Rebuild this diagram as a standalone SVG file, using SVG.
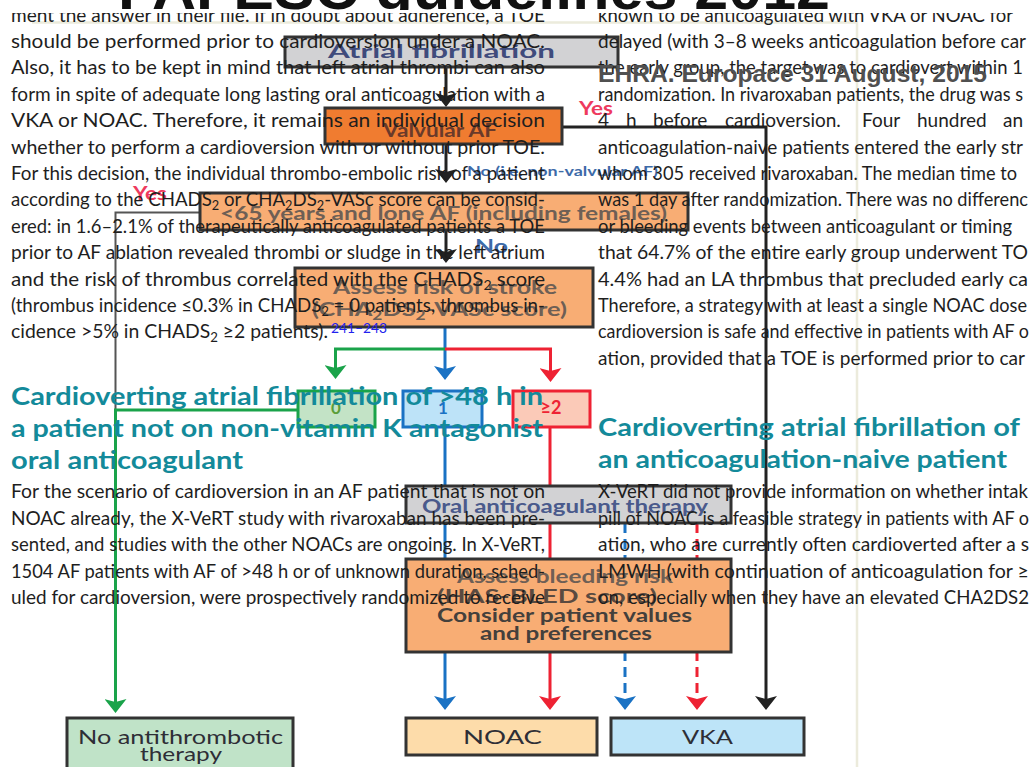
<svg xmlns="http://www.w3.org/2000/svg" width="1031" height="767" viewBox="0 0 1031 767">
<style>
.b{font-family:Lato,"Liberation Sans",sans-serif;font-size:19px;fill:#1e1e1e}
.h{font-family:Lato,"Liberation Sans",sans-serif;font-weight:700;font-size:25px;fill:#138a9a}
.ft{font-family:Lato,"Liberation Sans",sans-serif;font-weight:700;font-size:19px}
.fr{font-family:Lato,"Liberation Sans",sans-serif;font-size:19px;fill:#2e2e36}
.lb{font-family:Lato,"Liberation Sans",sans-serif;font-weight:700}
.box{stroke:#333;stroke-width:3}
.ln{fill:none;stroke-width:3}
.k{stroke:#222}.g{stroke:#1aa34a}.bl{stroke:#1a72c4}.r{stroke:#ee2233}
.dash{stroke-dasharray:10 6}
</style>
<defs>
<marker id="ak" viewBox="0 0 14 22" refX="8" refY="11" markerWidth="14" markerHeight="22" markerUnits="userSpaceOnUse" orient="auto"><path d="M0,0 L14,11 L0,22 L3,11 z" fill="#222"/></marker>
<marker id="ag" viewBox="0 0 14 22" refX="8" refY="11" markerWidth="14" markerHeight="22" markerUnits="userSpaceOnUse" orient="auto"><path d="M0,0 L14,11 L0,22 L3,11 z" fill="#1aa34a"/></marker>
<marker id="ab" viewBox="0 0 14 22" refX="8" refY="11" markerWidth="14" markerHeight="22" markerUnits="userSpaceOnUse" orient="auto"><path d="M0,0 L14,11 L0,22 L3,11 z" fill="#1a72c4"/></marker>
<marker id="ar" viewBox="0 0 14 22" refX="8" refY="11" markerWidth="14" markerHeight="22" markerUnits="userSpaceOnUse" orient="auto"><path d="M0,0 L14,11 L0,22 L3,11 z" fill="#ee2233"/></marker>
<clipPath id="topclip"><rect x="0" y="0" width="1031" height="10"/></clipPath>
</defs>
<rect width="1031" height="767" fill="#fff"/>
<!-- page edge -->
<path d="M32,22.5 H857 V767" fill="none" stroke="#ecebdc" stroke-width="2.5"/>

<!-- connectors -->
<g id="connectors">
<path class="ln k" d="M446,67 V101" marker-end="url(#ak)"/>
<path class="ln k" d="M446,144 V177" marker-end="url(#ak)"/>
<path class="ln k" d="M446,230 V257" marker-end="url(#ak)"/>
<path class="ln k" d="M562,127 H766 V704" marker-end="url(#ak)"/>
<path fill="none" stroke="#555" stroke-width="2" d="M200,212.5 H115.5 V410"/>
<path class="ln g" d="M298,410 H115.5 V707" marker-end="url(#ag)"/>
<path class="ln bl" d="M445,327 V374" marker-end="url(#ab)"/>
<path class="ln g" d="M445,349 H335.5 V373" marker-end="url(#ag)"/>
<path class="ln r" d="M445,349 H550.5 V376" marker-end="url(#ar)"/>
<path class="ln bl" d="M445,427 V704" marker-end="url(#ab)"/>
<path class="ln r" d="M550,427 V704" marker-end="url(#ar)"/>
<path class="ln bl dash" d="M625,523 V704" marker-end="url(#ab)"/>
<path class="ln r dash" d="M697,523 V704" marker-end="url(#ar)"/>
<text class="lb" x="579" y="115" font-size="18" fill="#ee3a5e" textLength="34" lengthAdjust="spacingAndGlyphs">Yes</text>
<text class="lb" x="133" y="200" font-size="18" fill="#ee3a5e" textLength="34" lengthAdjust="spacingAndGlyphs">Yes</text>
<text class="lb" x="467" y="176" font-size="14" fill="#3d6aa8" textLength="191" lengthAdjust="spacingAndGlyphs">No (i.e. non-valvular AF)</text>
<text class="lb" x="475" y="253" font-size="18" fill="#3d6aa8" textLength="33" lengthAdjust="spacingAndGlyphs">No</text>
</g>

<!-- nodes -->
<g id="n-af"><rect class="box" x="285" y="37" width="333" height="30" fill="#d2d2d4"/>
<text class="ft" x="328" y="58" fill="#3f4b7c" textLength="227" lengthAdjust="spacingAndGlyphs">Atrial fibrillation</text></g>
<g id="n-valv"><rect class="box" x="325" y="108" width="237" height="36" fill="#f07c30"/>
<text class="ft" x="383" y="137" fill="#6a3a2a" textLength="114" lengthAdjust="spacingAndGlyphs">Valvular AF</text></g>
<g id="n-65"><rect class="box" x="200" y="193" width="488" height="37" fill="#f8ad74"/>
<text class="ft" x="220" y="220" fill="#6e5f55" textLength="447" lengthAdjust="spacingAndGlyphs">&lt;65 years and lone AF (including females)</text></g>
<g id="n-stroke"><rect class="box" x="295" y="268" width="298" height="59" fill="#f8ad74"/>
<text class="ft" x="333" y="294" fill="#6e5f55" textLength="224" lengthAdjust="spacingAndGlyphs">Assess risk of stroke</text>
<text class="ft" x="312" y="316" fill="#6e5f55" textLength="255" lengthAdjust="spacingAndGlyphs">(CHA<tspan font-size="13" dy="4">2</tspan><tspan dy="-4">DS</tspan><tspan font-size="13" dy="4">2</tspan><tspan dy="-4">-VASc score)</tspan></text></g>
<g id="n-0"><rect x="298" y="391" width="77" height="36" fill="#c3e3c6" stroke="#1aa34a" stroke-width="3"/>
<text class="lb" x="336" y="414" font-size="17" fill="#5a9e3a" text-anchor="middle">0</text></g>
<g id="n-1"><rect x="403" y="391" width="79" height="36" fill="#bde3f8" stroke="#1a72c4" stroke-width="3"/>
<text class="lb" x="443" y="414" font-size="17" fill="#1a72c4" text-anchor="middle">1</text></g>
<g id="n-2"><rect x="513" y="391" width="77" height="36" fill="#fbcab8" stroke="#ee2233" stroke-width="3"/>
<text class="lb" x="551" y="414" font-size="18" fill="#ee2233" text-anchor="middle">≥2</text></g>
<g id="n-oac"><rect class="box" x="406" y="486" width="325" height="37" fill="#d2d2d4"/>
<text class="ft" x="422" y="513" fill="#4a5a8c" textLength="286" lengthAdjust="spacingAndGlyphs">Oral anticoagulant therapy</text></g>
<g id="n-bleed"><rect class="box" x="406" y="559" width="325" height="93" fill="#f8ad74"/>
<text class="ft" x="457" y="583" font-size="18" fill="#6e5f55" textLength="216" lengthAdjust="spacingAndGlyphs">Assess bleeding risk</text>
<text class="ft" x="437" y="603" font-size="18" fill="#5a4a40" textLength="220" lengthAdjust="spacingAndGlyphs">(HAS-BLED score)</text>
<text class="ft" x="437" y="622" font-size="18" fill="#44403c" textLength="255" lengthAdjust="spacingAndGlyphs">Consider patient values</text>
<text class="ft" x="480" y="640" font-size="18" fill="#44403c" textLength="172" lengthAdjust="spacingAndGlyphs">and preferences</text></g>
<g id="n-none"><rect class="box" x="67" y="718" width="226" height="60" fill="#c0e3c8"/>
<text class="fr" x="78" y="744" textLength="205" lengthAdjust="spacingAndGlyphs">No antithrombotic</text>
<text class="fr" x="140" y="761" textLength="82" lengthAdjust="spacingAndGlyphs">therapy</text></g>
<g id="n-noac"><rect class="box" x="406" y="718" width="191" height="37" fill="#fddcaa"/>
<text class="fr" x="463" y="744" textLength="79" lengthAdjust="spacingAndGlyphs">NOAC</text></g>
<g id="n-vka"><rect class="box" x="611" y="718" width="193" height="37" fill="#bde4f8"/>
<text class="fr" x="682" y="744" fill="#2d3b5a" textLength="51" lengthAdjust="spacingAndGlyphs">VKA</text></g>

<!-- article text, left column -->
<g id="article">
<text class="b" x="11" y="21.6" textLength="534" lengthAdjust="spacingAndGlyphs">ment the answer in their file. If in doubt about adherence, a TOE</text>
<text class="b" x="11" y="48" textLength="534" lengthAdjust="spacingAndGlyphs">should be performed prior to cardioversion under a NOAC.</text>
<text class="b" x="11" y="74.4" textLength="534" lengthAdjust="spacingAndGlyphs">Also, it has to be kept in mind that left atrial thrombi can also</text>
<text class="b" x="11" y="100.8" textLength="534" lengthAdjust="spacingAndGlyphs">form in spite of adequate long lasting oral anticoagulation with a</text>
<text class="b" x="11" y="127.2" textLength="534" lengthAdjust="spacingAndGlyphs">VKA or NOAC. Therefore, it remains an individual decision</text>
<text class="b" x="11" y="153.6" textLength="534" lengthAdjust="spacingAndGlyphs">whether to perform a cardioversion with or without prior TOE.</text>
<text class="b" x="11" y="180" textLength="534" lengthAdjust="spacingAndGlyphs">For this decision, the individual thrombo-embolic risk of a patient</text>
<text class="b" x="11" y="206.4" textLength="534" lengthAdjust="spacingAndGlyphs">according to the CHADS<tspan font-size="13" dy="4">2</tspan><tspan dy="-4"> or CHA</tspan><tspan font-size="13" dy="4">2</tspan><tspan dy="-4">DS</tspan><tspan font-size="13" dy="4">2</tspan><tspan dy="-4">-VASc score can be consid-</tspan></text>
<text class="b" x="11" y="232.8" textLength="534" lengthAdjust="spacingAndGlyphs">ered: in 1.6–2.1% of therapeutically anticoagulated patients a TOE</text>
<text class="b" x="11" y="259.2" textLength="534" lengthAdjust="spacingAndGlyphs">prior to AF ablation revealed thrombi or sludge in the left atrium</text>
<text class="b" x="11" y="285.6" textLength="534" lengthAdjust="spacingAndGlyphs">and the risk of thrombus correlated with the CHADS<tspan font-size="13" dy="4">2</tspan><tspan dy="-4"> score</tspan></text>
<text class="b" x="11" y="312" textLength="534" lengthAdjust="spacingAndGlyphs">(thrombus incidence ≤0.3% in CHADS<tspan font-size="13" dy="4">2</tspan><tspan dy="-4"> = 0 patients, thrombus in-</tspan></text>
<text class="b" x="11" y="338.4" textLength="317" lengthAdjust="spacingAndGlyphs">cidence &gt;5% in CHADS<tspan font-size="13" dy="4">2</tspan><tspan dy="-4"> ≥2 patients).</tspan></text>
<text x="331" y="333" font-family="Lato, 'Liberation Sans', sans-serif" font-size="13" fill="#2222ee" textLength="56" lengthAdjust="spacingAndGlyphs">241–243</text>

<text class="h" x="11" y="405" textLength="532" lengthAdjust="spacingAndGlyphs">Cardioverting atrial fibrillation of &gt;48 h in</text>
<text class="h" x="11" y="437" textLength="532" lengthAdjust="spacingAndGlyphs">a patient not on non-vitamin K antagonist</text>
<text class="h" x="11" y="469" textLength="232" lengthAdjust="spacingAndGlyphs">oral anticoagulant</text>

<text class="b" x="11" y="498" textLength="534" lengthAdjust="spacingAndGlyphs">For the scenario of cardioversion in an AF patient that is not on</text>
<text class="b" x="11" y="524.5" textLength="534" lengthAdjust="spacingAndGlyphs">NOAC already, the X-VeRT study with rivaroxaban has been pre-</text>
<text class="b" x="11" y="551" textLength="534" lengthAdjust="spacingAndGlyphs">sented, and studies with the other NOACs are ongoing. In X-VeRT,</text>
<text class="b" x="11" y="577.5" textLength="534" lengthAdjust="spacingAndGlyphs">1504 AF patients with AF of &gt;48 h or of unknown duration, sched-</text>
<text class="b" x="11" y="604" textLength="534" lengthAdjust="spacingAndGlyphs">uled for cardioversion, were prospectively randomized to receive</text>

<!-- right column -->
<text class="b" x="598" y="21.6" textLength="415" lengthAdjust="spacingAndGlyphs">known to be anticoagulated with VKA or NOAC for</text>
<text class="b" x="598" y="48" textLength="428" lengthAdjust="spacingAndGlyphs">delayed (with 3–8 weeks anticoagulation before car</text>
<text class="b" x="598" y="74.4" textLength="425" lengthAdjust="spacingAndGlyphs">the early group, the target was to cardiovert within 1</text>
<text class="b" x="598" y="100.8" textLength="425" lengthAdjust="spacingAndGlyphs">randomization. In rivaroxaban patients, the drug was s</text>
<text class="b" y="127.2"><tspan x="598">4</tspan><tspan x="626">h</tspan><tspan x="653">before</tspan><tspan x="725">cardioversion.</tspan><tspan x="862">Four</tspan><tspan x="917">hundred</tspan><tspan x="1003">an</tspan></text>
<text class="b" x="598" y="153.6" textLength="425" lengthAdjust="spacingAndGlyphs">anticoagulation-naive patients entered the early str</text>
<text class="b" x="598" y="180" textLength="419" lengthAdjust="spacingAndGlyphs">whom 305 received rivaroxaban. The median time to</text>
<text class="b" x="598" y="206.4" textLength="430" lengthAdjust="spacingAndGlyphs">was 1 day after randomization. There was no differenc</text>
<text class="b" x="598" y="232.8" textLength="414" lengthAdjust="spacingAndGlyphs">or bleeding events between anticoagulant or timing</text>
<text class="b" x="598" y="259.2" textLength="430" lengthAdjust="spacingAndGlyphs">that 64.7% of the entire early group underwent TO</text>
<text class="b" x="598" y="285.6" textLength="430" lengthAdjust="spacingAndGlyphs">4.4% had an LA thrombus that precluded early ca</text>
<text class="b" x="598" y="312" textLength="429" lengthAdjust="spacingAndGlyphs">Therefore, a strategy with at least a single NOAC dose</text>
<text class="b" x="598" y="338.4" textLength="431" lengthAdjust="spacingAndGlyphs">cardioversion is safe and effective in patients with AF o</text>
<text class="b" x="598" y="364.8" textLength="427" lengthAdjust="spacingAndGlyphs">ation, provided that a TOE is performed prior to car</text>

<text class="h" x="598" y="436" textLength="422" lengthAdjust="spacingAndGlyphs">Cardioverting atrial fibrillation of</text>
<text class="h" x="598" y="468" textLength="409" lengthAdjust="spacingAndGlyphs">an anticoagulation-naive patient</text>

<text class="b" x="598" y="498" textLength="430" lengthAdjust="spacingAndGlyphs">X-VeRT did not provide information on whether intak</text>
<text class="b" x="598" y="524.5" textLength="431" lengthAdjust="spacingAndGlyphs">pill of NOAC is a feasible strategy in patients with AF o</text>
<text class="b" x="598" y="551" textLength="431" lengthAdjust="spacingAndGlyphs">ation, who are currently often cardioverted after a s</text>
<text class="b" x="598" y="577.5" textLength="431" lengthAdjust="spacingAndGlyphs">LMWH (with continuation of anticoagulation for ≥</text>
<text class="b" x="598" y="604" textLength="431" lengthAdjust="spacingAndGlyphs">on, especially when they have an elevated CHA2DS2</text>
</g>

<text x="598" y="82" font-family="'Liberation Sans', Arial, sans-serif" font-weight="700" font-size="23" fill="#505050" textLength="389" lengthAdjust="spacingAndGlyphs">EHRA. Europace 31 August, 2015</text>

<rect x="0" y="0" width="1031" height="13" fill="#fff"/>
<g clip-path="url(#topclip)">
<text x="118" y="9" font-family="'Liberation Sans', Arial, sans-serif" font-weight="700" font-size="58" fill="#111" textLength="712" lengthAdjust="spacingAndGlyphs">FAFESC guidelines 2012</text>
</g>
</svg>
